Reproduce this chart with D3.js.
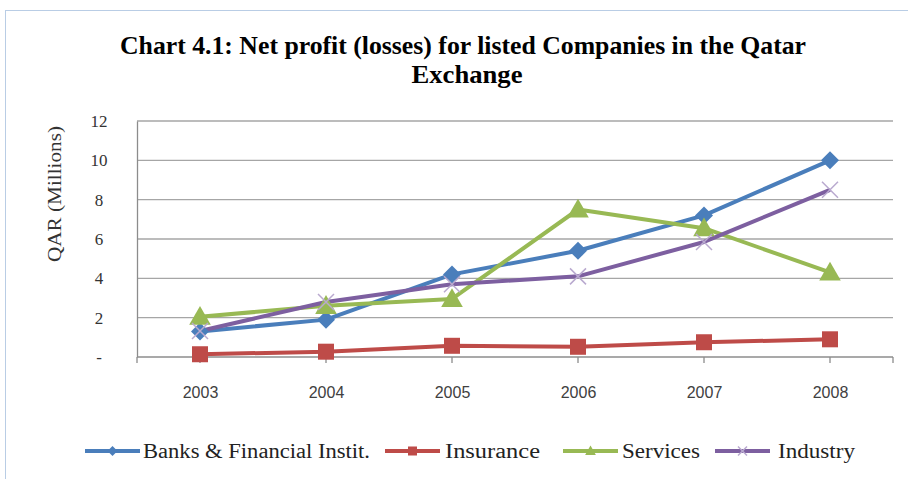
<!DOCTYPE html>
<html><head><meta charset="utf-8">
<script src="https://cdn.jsdelivr.net/npm/d3@7"></script>
<style>body{margin:0;background:#fff}svg{display:block}</style>
</head><body>
<svg id="chart" width="908" height="479"></svg>
<script>
const years = ["2003","2004","2005","2006","2007","2008"];
const banks = [1.3, 1.9, 4.2, 5.4, 7.2, 10.0];
const insurance = [0.14, 0.27, 0.57, 0.52, 0.75, 0.9];
const services = [2.05, 2.6, 2.95, 7.5, 6.55, 4.3];
const industry = [1.32, 2.8, 3.7, 4.1, 5.85, 8.5];
const yTicks = [0, 2, 4, 6, 8, 10, 12];
const seriesNames = ["Banks & Financial  Instit.", "Insurance", "Services", "Industry"];
const seriesValues = [banks, insurance, services, industry];
const colors = ["#4a7ebb", "#be4b48", "#98b954", "#7d5fa0"];
const markers = ["diamond", "square", "triangle", "x"];

const svg = d3.select("#chart");
svg.append("rect").attr("x",5.5).attr("y",10.5).attr("width",920).attr("height",500)
  .attr("fill","none").attr("stroke","#b9cde5").attr("stroke-width",1);

const title = svg.append("g").attr("font-family","'Liberation Serif', serif").attr("font-weight","bold")
  .attr("font-size",26).attr("fill","#000").attr("text-anchor","middle");
title.append("text").attr("x",463).attr("y",54).attr("textLength",686).attr("lengthAdjust","spacingAndGlyphs")
  .text("Chart 4.1: Net profit (losses) for listed Companies in the Qatar");
title.append("text").attr("x",467).attr("y",83).attr("textLength",111).attr("lengthAdjust","spacingAndGlyphs")
  .text("Exchange");

const x = d3.scalePoint().domain(years).range([200, 830]);
const y = d3.scaleLinear().domain([0, 12]).range([357, 121]);
const left = 137, right = 893;

svg.append("g").selectAll("line").data(yTicks.filter(d => d > 0)).join("line")
  .attr("x1", left).attr("x2", right).attr("y1", d => y(d)).attr("y2", d => y(d))
  .attr("stroke","#a6a6a6").attr("stroke-width",1.3);

const yAxis = svg.append("g").attr("transform",`translate(${left},0)`)
  .call(d3.axisLeft(y).tickValues(yTicks).tickSize(0).tickPadding(0).tickFormat(d => d === 0 ? "-" : d));
yAxis.select(".domain").attr("stroke","#8c8c8c").attr("stroke-width",1.3);
yAxis.selectAll("text").attr("x", -38).attr("text-anchor","middle")
  .attr("font-family","'Liberation Serif', serif").attr("font-size",17).attr("fill","#333");

const tickPos = [left].concat(years.map(d => x(d))).concat([right]);
svg.append("line").attr("x1",left).attr("x2",right).attr("y1",357).attr("y2",357)
  .attr("stroke","#8c8c8c").attr("stroke-width",1.3);
svg.append("g").selectAll("line").data(tickPos).join("line")
  .attr("x1", d => d).attr("x2", d => d).attr("y1",357).attr("y2",363)
  .attr("stroke","#8c8c8c").attr("stroke-width",1.3);
const xAxis = svg.append("g").attr("transform","translate(0,357)")
  .call(d3.axisBottom(x).tickSize(0).tickPadding(0));
xAxis.select(".domain").remove();
xAxis.selectAll("text").attr("y", 41).attr("dy",0)
  .attr("font-family","'Liberation Sans', Arial, sans-serif").attr("font-size",16).attr("fill","#404040");

svg.append("text").attr("transform","translate(61,194) rotate(-90)").attr("text-anchor","middle")
  .attr("textLength",136).attr("lengthAdjust","spacingAndGlyphs")
  .attr("font-family","'Liberation Serif', serif").attr("font-size",18).attr("fill","#333")
  .text("QAR (Millions)");

function drawMarker(g, type, cx, cy, color, s) {
  const h = s/2;
  if (type === "diamond") {
    g.append("path").attr("d", `M${cx},${cy-h}L${cx+h},${cy}L${cx},${cy+h}L${cx-h},${cy}Z`).attr("fill", color);
  } else if (type === "square") {
    g.append("rect").attr("x", cx - h).attr("y", cy - h).attr("width", s).attr("height", s).attr("fill", color);
  } else if (type === "triangle") {
    g.append("path").attr("d", `M${cx},${cy - s*0.6}L${cx + s*0.6},${cy + s*0.45}L${cx - s*0.6},${cy + s*0.45}Z`).attr("fill", color);
  } else {
    g.append("path").attr("d", `M${cx-h},${cy-h}L${cx+h},${cy+h}M${cx-h},${cy+h}L${cx+h},${cy-h}`)
      .attr("stroke", "#b9a9cf").attr("stroke-width", 1.5).attr("fill","none");
  }
}

const line = d3.line().x((d,i) => x(years[i])).y(d => y(d));
const plot = svg.append("g");
const markerSizes = [18, 16, 18, 16];
seriesValues.forEach((vals, k) => {
  plot.append("path").datum(vals).attr("d", line).attr("fill","none")
    .attr("stroke", colors[k]).attr("stroke-width", 4).attr("stroke-linejoin","round");
});
seriesValues.forEach((vals, k) => {
  const g = plot.append("g");
  vals.forEach((v, i) => drawMarker(g, markers[k], x(years[i]), y(v), colors[k], markerSizes[k]));
});

const legendItems = [
  {lx: 85, tx: 143, tw: 227},
  {lx: 385, tx: 445, tw: 95},
  {lx: 563, tx: 622, tw: 78},
  {lx: 715, tx: 778, tw: 77}
];
const leg = svg.append("g");
legendItems.forEach((it, k) => {
  const ly = 451;
  leg.append("line").attr("x1", it.lx).attr("x2", it.lx + 55).attr("y1", ly).attr("y2", ly)
    .attr("stroke", colors[k]).attr("stroke-width", 4);
  drawMarker(leg, markers[k], it.lx + 27.5, ly, colors[k], k === 0 ? 10 : 9);
  leg.append("text").attr("x", it.tx).attr("y", ly + 7).attr("textLength", it.tw).attr("lengthAdjust","spacingAndGlyphs")
    .attr("font-family","'Liberation Serif', serif").attr("font-size",20).attr("fill","#222")
    .text(seriesNames[k]);
});
</script>
</body></html>
